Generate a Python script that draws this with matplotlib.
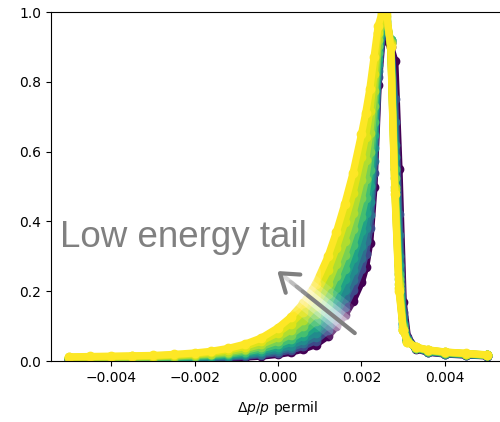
import numpy as np
import matplotlib
matplotlib.use("Agg")
import matplotlib.pyplot as plt
from matplotlib import patheffects as pe

# Momentum deviation bins (Δp/p)
dp = [-0.0050, -0.0045, -0.0040, -0.0035, -0.0030, -0.0025, -0.0020, -0.0016,
      -0.0012, -0.0008, -0.0004, 0.0000, 0.0003, 0.0006, 0.0009, 0.0012,
      0.0014, 0.0016, 0.0018, 0.0020, 0.0021, 0.0022, 0.0023, 0.0024,
      0.0025, 0.0026, 0.0027, 0.0028, 0.0029, 0.0030, 0.0031, 0.0033,
      0.0036, 0.0040, 0.0045, 0.0050]

# Normalised distributions, from the shortest to the longest low-energy tail
run_1 = [0.004, 0.004, 0.004, 0.004, 0.005, 0.005, 0.006, 0.007,
         0.008, 0.011, 0.014, 0.019, 0.025, 0.034, 0.047, 0.072,
         0.099, 0.131, 0.173, 0.226, 0.268, 0.339, 0.498, 0.790,
         0.930, 0.920, 0.900, 0.860, 0.550, 0.170, 0.070, 0.035,
         0.025, 0.020, 0.017, 0.015]
run_2 = [0.0050, 0.0051, 0.0051, 0.0052, 0.0063, 0.0065, 0.0078, 0.0092,
         0.0108, 0.0137, 0.0180, 0.0240, 0.0311, 0.0422, 0.0585, 0.0883,
         0.119, 0.156, 0.204, 0.263, 0.308, 0.382, 0.540, 0.813,
         0.944, 0.940, 0.910, 0.750, 0.420, 0.140, 0.065, 0.036,
         0.026, 0.021, 0.018, 0.015]
run_3 = [0.0056, 0.0058, 0.0059, 0.0060, 0.0072, 0.0075, 0.0091, 0.0107,
         0.0127, 0.0162, 0.0215, 0.0289, 0.0376, 0.0508, 0.0700, 0.1041,
         0.139, 0.180, 0.232, 0.2965, 0.344, 0.4195, 0.5745, 0.8305,
         0.951, 0.945, 0.915, 0.685, 0.360, 0.125, 0.0625, 0.0365,
         0.027, 0.0215, 0.0185, 0.0155]
run_4 = [0.0062, 0.0064, 0.0066, 0.0068, 0.0080, 0.0085, 0.0103, 0.0122,
         0.0146, 0.0187, 0.0249, 0.0338, 0.0441, 0.0593, 0.0814, 0.1198,
         0.159, 0.204, 0.260, 0.330, 0.380, 0.457, 0.609, 0.848,
         0.958, 0.950, 0.920, 0.620, 0.300, 0.110, 0.060, 0.037,
         0.028, 0.022, 0.019, 0.016]
run_5 = [0.0070, 0.0073, 0.0076, 0.0078, 0.0090, 0.0098, 0.0119, 0.0142,
         0.0172, 0.0222, 0.0297, 0.0408, 0.0533, 0.0714, 0.0974, 0.1413,
         0.1845, 0.2345, 0.296, 0.372, 0.424, 0.5015, 0.6475, 0.866,
         0.965, 0.960, 0.920, 0.585, 0.275, 0.105, 0.059, 0.0375,
         0.0285, 0.0225, 0.0195, 0.0165]
run_6 = [0.0077, 0.0081, 0.0085, 0.0088, 0.0100, 0.0111, 0.0134, 0.0161,
         0.0197, 0.0256, 0.0345, 0.0478, 0.0624, 0.0835, 0.1134, 0.1627,
         0.210, 0.265, 0.332, 0.414, 0.468, 0.546, 0.686, 0.884,
         0.972, 0.970, 0.920, 0.550, 0.250, 0.100, 0.058, 0.038,
         0.029, 0.023, 0.020, 0.017]
run_7 = [0.0087, 0.0092, 0.0097, 0.0102, 0.0114, 0.0129, 0.0155, 0.0187,
         0.0232, 0.0304, 0.0411, 0.0576, 0.0754, 0.1004, 0.1357, 0.1918,
         0.2445, 0.305, 0.3775, 0.4665, 0.522, 0.5995, 0.7295, 0.9025,
         0.979, 0.9775, 0.915, 0.525, 0.235, 0.095, 0.057, 0.0385,
         0.030, 0.024, 0.0205, 0.017]
run_8 = [0.0096, 0.0103, 0.0109, 0.0115, 0.0127, 0.0146, 0.0176, 0.0212,
         0.0267, 0.0351, 0.0477, 0.0674, 0.0883, 0.1173, 0.158, 0.2209,
         0.279, 0.345, 0.423, 0.519, 0.576, 0.653, 0.773, 0.921,
         0.986, 0.985, 0.910, 0.500, 0.220, 0.090, 0.056, 0.039,
         0.031, 0.025, 0.021, 0.017]
run_9 = [0.0108, 0.0117, 0.0125, 0.0133, 0.0144, 0.0168, 0.0203, 0.0246,
         0.0314, 0.0416, 0.0569, 0.0812, 0.1067, 0.1412, 0.189, 0.2605,
         0.3245, 0.3975, 0.4815, 0.5845, 0.643, 0.7165, 0.8215, 0.9405,
         0.993, 0.9925, 0.905, 0.490, 0.210, 0.090, 0.0555, 0.0395,
         0.0315, 0.0255, 0.0215, 0.0175]
run_10 = [0.012, 0.013, 0.014, 0.015, 0.016, 0.019, 0.023, 0.028,
          0.036, 0.048, 0.066, 0.095, 0.125, 0.165, 0.220, 0.300,
          0.370, 0.450, 0.540, 0.650, 0.710, 0.780, 0.870, 0.960,
          1.000, 1.000, 0.900, 0.480, 0.200, 0.090, 0.055, 0.040,
          0.032, 0.026, 0.022, 0.018]

runs = [run_1, run_2, run_3, run_4, run_5, run_6, run_7, run_8, run_9, run_10]
# position of each run on the viridis scale
shade = [0.0, 0.22, 0.36, 0.48, 0.58, 0.70, 0.80, 0.88, 0.95, 1.0]
xticks = [-0.004, -0.002, 0.000, 0.002, 0.004]
yticks = [0.0, 0.2, 0.4, 0.6, 0.8, 1.0]

fig = plt.figure(figsize=(5.0, 4.22), dpi=100)
ax = fig.add_axes([0.102, 0.1445, 0.908, 0.827])

colors = plt.cm.viridis(shade)
for vals, c in zip(runs, colors):
    ax.plot(dp, vals, "-o", color=c, mec=c, mfc=c, ms=6, lw=5.2,
            solid_joinstyle="round", solid_capstyle="round")

ax.set_xlim(-0.00544, 0.00544)
ax.set_ylim(0, 1.0)
ax.set_xticks(xticks)
ax.set_xticklabels([f"{t:.3f}".replace("-", "\u2212") for t in xticks])
ax.set_yticks(yticks)
ax.set_yticklabels([f"{t:.1f}" for t in yticks])
ax.tick_params(labelsize=10)
ax.set_xlabel(r"$\Delta p/p$ permil", fontsize=10, labelpad=10)

# Annotation arrow with a soft white halo
arr = ax.annotate("", xy=(-0.00002, 0.258), xytext=(0.00184, 0.080),
                  arrowprops=dict(arrowstyle="->,head_length=0.6,head_width=0.42",
                                  color="#808080", lw=3, mutation_scale=20,
                                  shrinkA=0, shrinkB=0,
                                  capstyle="round", joinstyle="round"))
arr.arrow_patch.set_path_effects([
    pe.Stroke(linewidth=30, foreground="white", alpha=0.12),
    pe.Stroke(linewidth=22, foreground="white", alpha=0.18),
    pe.Stroke(linewidth=15, foreground="white", alpha=0.3),
    pe.Stroke(linewidth=9, foreground="white", alpha=0.45),
    pe.Normal(),
])

fig.text(0.121, 0.4147, "Low energy tail", fontsize=26.5, color="#808080",
         family="Liberation Sans", va="baseline", ha="left")

fig.savefig("out.png", dpi=100)
